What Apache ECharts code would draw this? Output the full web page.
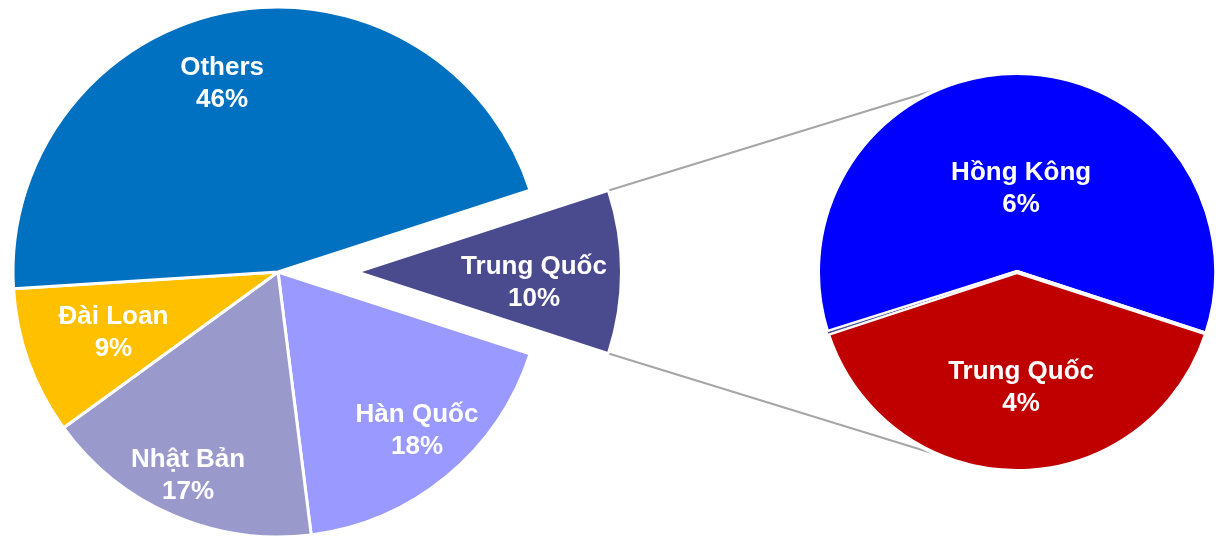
<!DOCTYPE html>
<html>
<head>
<meta charset="utf-8">
<script src="https://cdn.jsdelivr.net/npm/echarts@6/dist/echarts.min.js"></script>
<style>
  html, body { margin: 0; padding: 0; background: #ffffff; }
  #chart { width: 1220px; height: 538px; }
</style>
</head>
<body>
<div id="chart"></div>
<script>
// Main pie: shares (%) listed clockwise, starting with the pulled-out slice
const mainNames = ['Trung Quốc', 'Hàn Quốc', 'Nhật Bản', 'Đài Loan', 'Others'];
const mainValues = [10, 18, 17, 9, 46];
const mainColors = ['#4A4A8E', '#9999FF', '#9999CC', '#FFC000', '#0070C0'];
const pulledIndex = 0;

// Secondary pie: breakdown of the pulled-out slice
const subNames = ['Hồng Kông', 'Trung Quốc', 'Khác'];
const subValues = [6, 4, 0.02];
const subColors = ['#0000FF', '#C00000', '#4A4A8E'];
const subLabelled = [true, true, false];

// Geometry of the two pies (pixels)
const mainCenter = [278, 272], mainRadius = 265, mainStart = 18;
const pullOut = 84, pulledRadius = 258;
const subCenter = [1017, 272], subRadius = 199, subStart = 197.5;
const connectAngle = 113;   // where the connector lines meet the secondary pie

// Label placement: fraction of radius and small angle tweak (deg) per slice
const mainLabelPos = [[0.65, -3], [0.79, 2], [0.834, -0.6], [0.66, 0], [0.747, 5.6]];
const subLabelPos = [[0.43, -2.5], [0.57, 2], [0.5, 0]];
const labelDy = 2;

const rad = d => d * Math.PI / 180;

// Mid-angle and span of every slice, going clockwise from the start angle
function sliceAngles(values, start) {
  const total = values.reduce((a, b) => a + b, 0);
  let a = start;
  return values.map(v => {
    const span = v / total * 360;
    const m = a - span / 2;
    a -= span;
    return { mid: m, span, from: a + span, to: a };
  });
}
const mainAng = sliceAngles(mainValues, mainStart);
const subAng = sliceAngles(subValues, subStart);

function onCircle(c, r, deg) {
  return [c[0] + r * Math.cos(rad(deg)), c[1] - r * Math.sin(rad(deg))];
}

// The pulled-out slice is drawn around its own, shifted centre
const pulledCenter = onCircle(mainCenter, pullOut, mainAng[pulledIndex].mid);

const labelFont = {
  color: '#ffffff',
  fontFamily: '"Liberation Sans", Arial, sans-serif',
  fontWeight: 'bold',
  fontSize: 26,
  lineHeight: 32
};
const labelFormatter = p => p.name + '\n' + p.value + '%';

function placeLabel(center, radius, ang, pos, idx) {
  const p = onCircle(center, radius * pos[idx][0], ang[idx].mid + pos[idx][1]);
  return { x: p[0], y: p[1] + labelDy, align: 'center', verticalAlign: 'middle' };
}

// Connector lines from the pulled-out slice's outer corners to the secondary pie
const pTopA = onCircle(pulledCenter, pulledRadius, mainAng[pulledIndex].from);
const pBotA = onCircle(pulledCenter, pulledRadius, mainAng[pulledIndex].to);
const pTopB = onCircle(subCenter, subRadius, connectAngle);
const pBotB = onCircle(subCenter, subRadius, -connectAngle);

const common = {
  type: 'pie',
  clockwise: true,
  avoidLabelOverlap: false,
  silent: true,
  emphasis: { disabled: true, scale: false },
  labelLine: { show: false }
};

const chart = echarts.init(document.getElementById('chart'), null, { renderer: 'canvas' });

chart.setOption({
  backgroundColor: '#ffffff',
  animation: false,
  graphic: [
    { type: 'line', z: 0, shape: { x1: pTopA[0] + 2, y1: pTopA[1] - 2, x2: pTopB[0], y2: pTopB[1] },
      style: { stroke: '#A6A6A6', lineWidth: 2 } },
    { type: 'line', z: 0, shape: { x1: pBotA[0] + 2, y1: pBotA[1] + 2, x2: pBotB[0], y2: pBotB[1] },
      style: { stroke: '#A6A6A6', lineWidth: 2 } }
  ],
  series: [
    // Main pie, without the pulled-out slice
    Object.assign({}, common, {
      center: mainCenter,
      radius: mainRadius,
      startAngle: mainStart,
      label: Object.assign({ show: true, position: 'inside', formatter: labelFormatter }, labelFont),
      labelLayout: p => placeLabel(mainCenter, mainRadius, mainAng, mainLabelPos, p.dataIndex),
      data: mainNames.map((n, i) => i === pulledIndex
        ? { name: n, value: mainValues[i], itemStyle: { color: 'transparent', borderWidth: 0 }, label: { show: false } }
        : { name: n, value: mainValues[i], itemStyle: { color: mainColors[i], borderColor: '#ffffff', borderWidth: 3 } })
    }),
    // The pulled-out slice on its shifted centre
    Object.assign({}, common, {
      center: pulledCenter,
      radius: pulledRadius,
      startAngle: mainStart,
      label: Object.assign({ show: true, position: 'inside', formatter: labelFormatter }, labelFont),
      labelLayout: p => placeLabel(pulledCenter, mainRadius, mainAng, mainLabelPos, p.dataIndex),
      data: mainNames.map((n, i) => i === pulledIndex
        ? { name: n, value: mainValues[i], itemStyle: { color: mainColors[i], borderWidth: 0 } }
        : { name: n, value: mainValues[i], itemStyle: { color: 'transparent', borderWidth: 0 }, label: { show: false } })
    }),
    // Secondary pie
    Object.assign({}, common, {
      center: subCenter,
      radius: subRadius,
      startAngle: subStart,
      label: Object.assign({ show: true, position: 'inside', formatter: labelFormatter }, labelFont),
      labelLayout: p => placeLabel(subCenter, subRadius, subAng, subLabelPos, p.dataIndex),
      data: subNames.map((n, i) => ({
        name: n,
        value: subValues[i],
        itemStyle: { color: subColors[i], borderColor: '#ffffff', borderWidth: i === 2 ? 1 : 4 },
        label: { show: subLabelled[i] }
      }))
    })
  ]
});
</script>
</body>
</html>
